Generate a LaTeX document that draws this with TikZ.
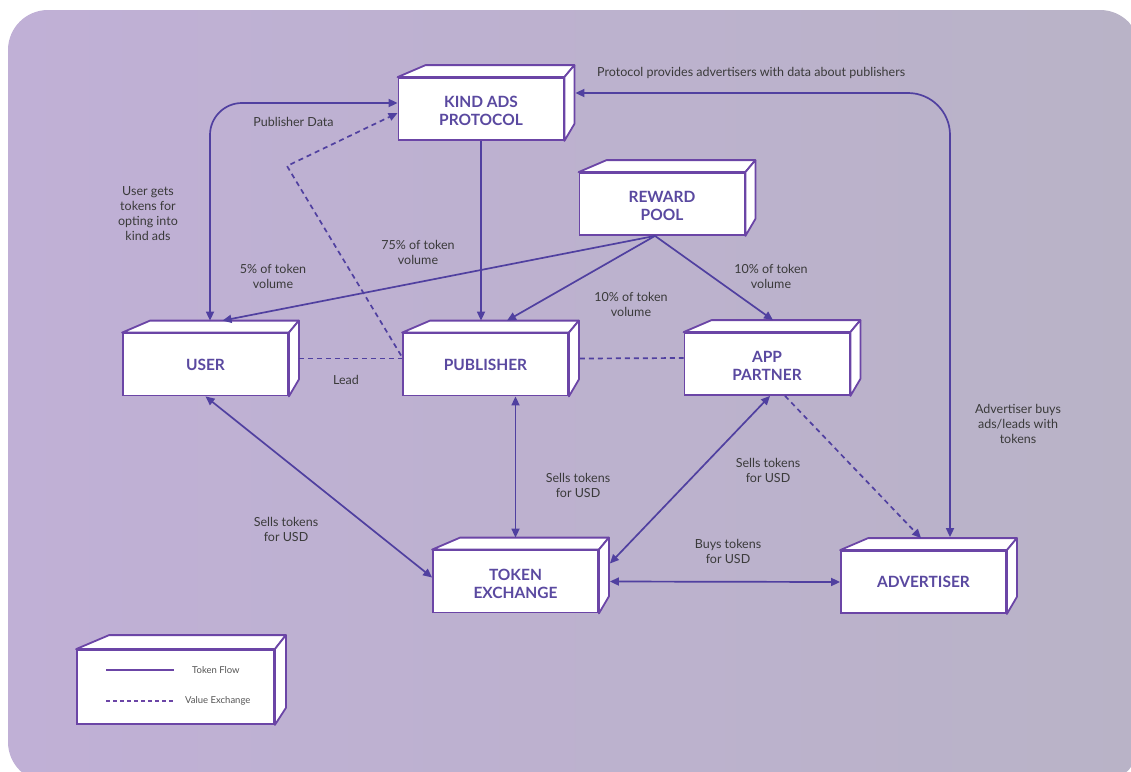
\documentclass[tikz,border=0pt]{standalone}
\usepackage{fontspec}
\setmainfont{Lato}
\usetikzlibrary{arrows.meta,calc}
\definecolor{bgL}{HTML}{C0B0D6}
\definecolor{bgR}{HTML}{B9B3C7}
\definecolor{boxc}{HTML}{6B45A6}
\definecolor{boxt}{HTML}{5A49A0}
\definecolor{flowc}{HTML}{5040A0}
\definecolor{labc}{HTML}{3A3A3A}
\definecolor{legc}{HTML}{555555}
\tikzset{
 box3d/.style={draw=boxc, fill=white, line width=1.8pt, minimum width=165pt, minimum height=62pt, inner sep=0pt, align=center, font=\fontsize{15.5}{18}\selectfont\bfseries, text=boxt},
 face/.style={draw=boxc, fill=white, line width=1.8pt, line join=round},
 flow/.style={draw=flowc, line width=1.7pt},
 val/.style={draw=flowc, line width=1.7pt, dash pattern=on 5pt off 4pt},
 lab/.style={font=\fontsize{12.5}{15}\selectfont, text=labc, align=center, inner sep=0pt},
 leg/.style={font=\fontsize{9.5}{10}\selectfont, text=legc, anchor=west, inner sep=0pt},
}
\newcommand{\boxfaces}[5]{%
 \path[face] (#1.north west) -- ++(#2,-#4) -- ($(#1.north east)+(#3,-#4)$) -- (#1.north east) -- cycle;
 \path[face] (#1.north east) -- ++(#3,-#4) -- ($(#1.south east)+(#3,-#5)$) -- (#1.south east) -- cycle;
}
\newcommand{\tstrut}{\rule{0pt}{15.5pt}}
\begin{document}
\begin{tikzpicture}[x=1pt,y=-1pt, >={Triangle[length=9pt,width=8pt]}]
\useasboundingbox (0,0) rectangle (1131,771);
\shade[left color=bgL, right color=bgR, rounded corners=40pt] (8,10) rectangle (1140,782);

% boxes
\node[box3d] (proto) at (481,109) {\tstrut KIND ADS\\PROTOCOL};
\node[box3d] (reward) at (662,204) {\tstrut REWARD\\POOL};
\node[box3d] (user) at (205.5,364.5) {USER};
\node[box3d] (pub) at (485.5,364.5) {PUBLISHER};
\node[box3d] (app) at (767,364) {\tstrut APP\\PARTNER};
\node[box3d] (token) at (515.5,581.5) {\tstrut TOKEN\\EXCHANGE};
\node[box3d] (adv) at (923.5,582) {ADVERTISER};
\node[box3d, minimum width=197pt, minimum height=74pt] (legend) at (175.5,687) {};
\foreach \b in {proto,reward,user,pub,app,token,adv}{\boxfaces{\b}{28}{10}{12}{17}}
\boxfaces{legend}{33}{11}{14}{17}

% legend
\coordinate (l1a) at (106,670); \coordinate (l1b) at (174,670);
\coordinate (l2a) at (106,701); \coordinate (l2b) at (174,701);
\draw[draw=boxc, line width=1.3pt] (l1a) -- (l1b);
\draw[draw=boxc, line width=1.3pt, dash pattern=on 3.5pt off 3.5pt] (l2a) -- (l2b);
\node[leg] (lt1) at (192,670) {Token Flow};
\node[leg] (lt2) at (185,701) {Value Exchange};

% token flows
\coordinate (rp) at ($(reward.south)+(-7,0)$);
\draw[flow,->] (rp) -- ($(user.north)+(17,-12)$);
\draw[flow,->] (rp) -- ($(pub.north)+(21.5,-12)$);
\draw[flow,->] (rp) -- ($(app.north)+(6,-12)$);
\draw[flow,->] (proto.south) -- ($(proto.south |- pub.north)+(0,-12)$);
\draw[flow,<->,rounded corners=32pt] ($(user.north)+(4.5,-12)$) |- ($(proto.west)+(0,-6)$);
\draw[flow,<->,rounded corners=42pt] ($(proto.east)+(11,-16)$) -| ($(adv.north)+(26.5,-13)$);
\draw[flow,<->] (user.south) -- ($(token.west)+(0,-4)$);
\coordinate (tt) at ($(token.north)+(0,-12)$);
\draw[flow,<->] (pub.south -| tt) -- (tt);
\draw[flow,<->] ($(app.south)+(3,0)$) -- ($(token.east)+(11,-18)$);
\draw[flow,<->] ($(token.east)+(11,0)$) -- (adv.west);

% value exchange
\coordinate (dk) at (287,166);
\draw[val,->] ($(pub.west)+(-1,-9)$) -- (dk) -- ($(proto.west)+(0,4)$);
\draw[val] ($(user.east)+(10,-6)$) -- ($(pub.west)+(0,-6)$);
\draw[val] ($(pub.east)+(11,-6)$) -- ($(app.west)+(0,-6)$);
\draw[val,->] ($(app.south)+(18,0)$) -- ($(adv.north)+(-2.5,-12)$);

% labels
\node[lab, anchor=west] (t1) at (597,73) {Protocol provides advertisers with data about publishers};
\node[lab] (t2) at (293.5,122) {Publisher Data};
\node[lab] (t3) at (148,214) {User gets\\tokens for\\opting into\\kind ads};
\node[lab] (t4) at (273,276.5) {5\% of token\\volume};
\node[lab] (t5) at (418,252.5) {75\% of token\\volume};
\node[lab] (t6) at (631,304.5) {10\% of token\\volume};
\node[lab] (t7) at (771,276.5) {10\% of token\\volume};
\node[lab] (t8) at (346,380) {Lead};
\node[lab] (t9) at (1018,424) {Advertiser buys\\ads/leads with\\tokens};
\node[lab] (t10) at (578,485) {Sells tokens\\for USD};
\node[lab] (t11) at (768,470) {Sells tokens\\for USD};
\node[lab] (t12) at (286,529.5) {Sells tokens\\for USD};
\node[lab] (t13) at (728,551) {Buys tokens\\for USD};
\end{tikzpicture}
\end{document}
